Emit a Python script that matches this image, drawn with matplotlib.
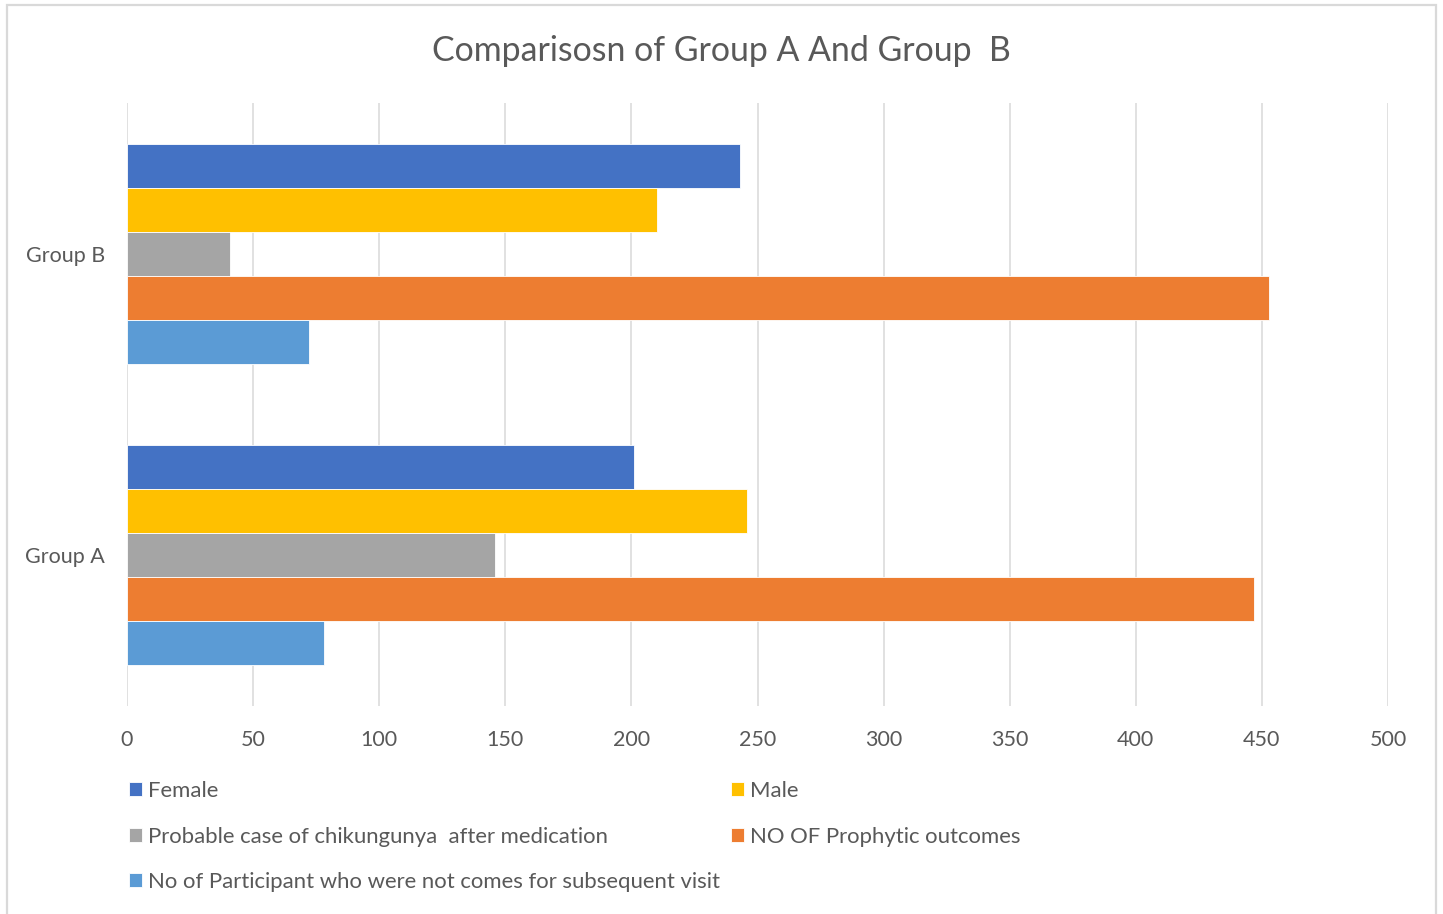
#!/usr/bin/env python
# coding: utf-8

import numpy as np
import matplotlib
matplotlib.use('Agg')
import matplotlib.pyplot as plt
import matplotlib.patches as mpatches

groups = ['Group A', 'Group B']
series = ['Female', 'Male', 'Probable case of chikungunya  after medication',
          'NO OF Prophytic outcomes',
          'No of Participant who were not comes for subsequent visit']
female = [201, 243]
male = [246, 210]
probable = [146, 41]
prophytic = [447, 453]
not_come = [78, 72]
xticks = [0, 50, 100, 150, 200, 250, 300, 350, 400, 450, 500]

colors = ['#4472C4', '#FFC000', '#A5A5A5', '#ED7D31', '#5B9BD5']
values = [female, male, probable, prophytic, not_come]

plt.rcParams['font.family'] = ['Lato', 'DejaVu Sans']
txt = '#595959'

fig = plt.figure(figsize=(14.43, 9.14), dpi=100)
ax = fig.add_axes([127/1443, 208/914, 1261/1443, 603/914])

y = np.arange(len(groups))
h = 44/301
bars = []
for i, (vals, c) in enumerate(zip(values, colors)):
    b = ax.barh(y + (2 - i) * h, vals, height=h, color=c,
                edgecolor='white', linewidth=0.6, zorder=3)
    bars.append(b)

ax.set_xlim(0, 500)
ax.set_ylim(-0.5, 1.5)
ax.set_xticks(xticks)
ax.set_yticks(y)
ax.set_yticklabels(groups)
ax.grid(axis='x', color='#d9d9d9', linewidth=1.1, zorder=0)
for s in ax.spines.values():
    s.set_visible(False)
ax.tick_params(axis='both', length=0, colors=txt, labelsize=15.5)
ax.tick_params(axis='x', pad=17)
ax.tick_params(axis='y', pad=16)

fig.text(0.5, (914-51)/914, 'Comparisosn of Group A And Group  B',
         ha='center', va='center', fontsize=24.4, color=txt)

order = [0, 2, 4, 1, 3]
leg = fig.legend([bars[i] for i in order], [series[i] for i in order],
                 loc='upper left', bbox_to_anchor=(129/1443, (914-781)/914),
                 bbox_transform=fig.transFigure, ncol=2, frameon=False,
                 fontsize=15.9, handlelength=0.6, handleheight=0.6,
                 handletextpad=0.28, labelspacing=1.16, columnspacing=0.48,
                 borderpad=0, borderaxespad=0)
for t in leg.get_texts():
    t.set_color(txt)

fig.patches.append(mpatches.Rectangle((6.5/1443, -0.01), (1436-6.5)/1443,
                                      (914-4.5)/914 + 0.01,
                                      transform=fig.transFigure, fill=False,
                                      edgecolor='#d9d9d9', linewidth=1.6))

plt.savefig('out.png', dpi=100)
